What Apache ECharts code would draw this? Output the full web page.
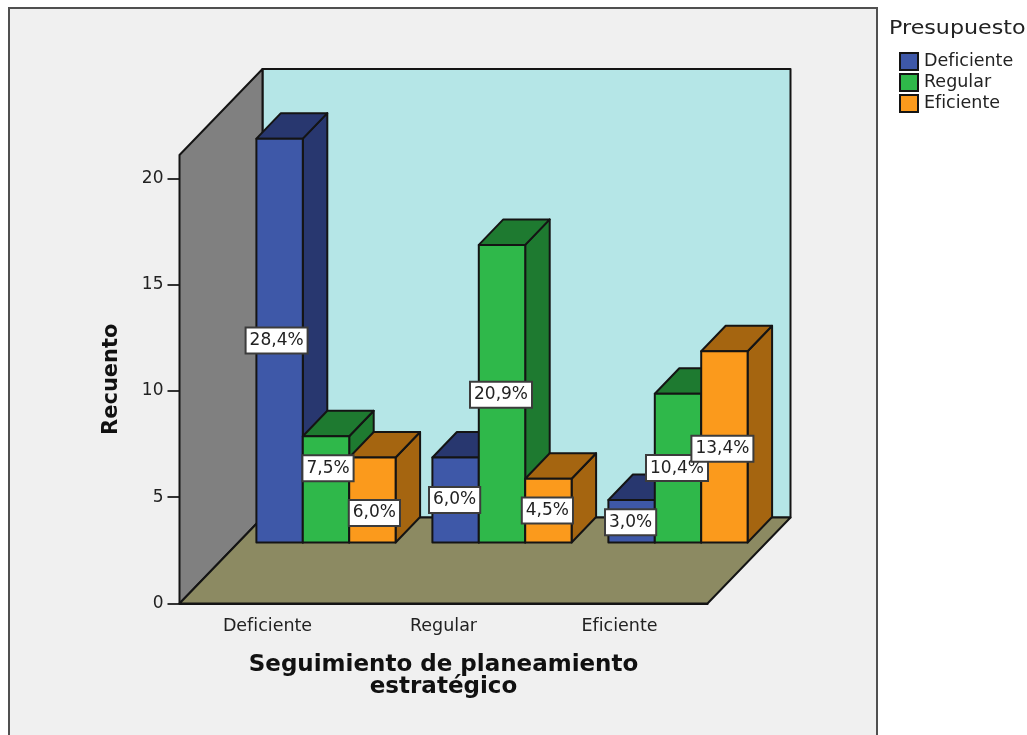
<!DOCTYPE html>
<html lang="es">
<head>
<meta charset="utf-8">
<title>Seguimiento de planeamiento estratégico</title>
<style>html,body{margin:0;padding:0;background:#fff}#chart{width:1027px;height:735px}</style>
<script src="https://cdn.jsdelivr.net/npm/echarts@6/dist/echarts.min.js"></script>
</head>
<body>
<div id="chart"></div>
<script>
// Counts and percentage labels, one entry per category
const categories = ['Deficiente', 'Regular', 'Eficiente'];
const deficiente = [19, 4, 2];
const regular = [5, 14, 7];
const eficiente = [4, 3, 9];
const deficienteLabels = ['28,4%', '6,0%', '3,0%'];
const regularLabels = ['7,5%', '20,9%', '10,4%'];
const eficienteLabels = ['6,0%', '4,5%', '13,4%'];
const yTicks = [0, 5, 10, 15, 20];

// Oblique projection of the box, in pixels
const BOX_DEPTH = { x: 83, y: 86 };
const BAR_SHIFT = { x: 58.5, y: 61 };
const BAR_DEPTH = { x: 24.5, y: 25.5 };
const BAR_WIDTH = 46.4;
const EDGE = '#141414';

// Label boxes are moved off the bar centre where they would collide
const labelNudge = {
  Deficiente: [[-3, 0], [-1, 0], [-1, 1]],
  Regular: [[2, -21], [-1, 1], [-1, 0]],
  Eficiente: [[2, 13], [-1, 0], [-2, 2]]
};

const face = (points, fill) => ({
  type: 'polygon',
  shape: { points },
  style: { fill, stroke: EDGE, lineWidth: 2, lineJoin: 'round' }
});

function renderWalls(params) {
  const c = params.coordSys;
  const l = c.x, r = c.x + c.width, t = c.y, b = c.y + c.height;
  const dx = BOX_DEPTH.x, dy = BOX_DEPTH.y;
  return {
    type: 'group',
    children: [
      face([[l + dx, t - dy], [r + dx, t - dy], [r + dx, b - dy], [l + dx, b - dy]], '#b5e6e7'),
      face([[l, t], [l + dx, t - dy], [l + dx, b - dy], [l, b]], '#808080'),
      face([[l, b], [l + dx, b - dy], [r + dx, b - dy], [r, b]], '#8c8a62')
    ]
  };
}

function barRenderer(slot, name, labels, front, dark) {
  return function (params, api) {
    const cat = api.value(0);
    const top = api.coord([cat, api.value(1)]);
    const base = api.coord([cat, 0]);
    const x0 = top[0] + BAR_SHIFT.x + (slot - 0.5) * BAR_WIDTH - BAR_WIDTH;
    const x1 = x0 + BAR_WIDTH;
    const yT = top[1] - BAR_SHIFT.y;
    const yB = base[1] - BAR_SHIFT.y;
    const ox = BAR_DEPTH.x, oy = BAR_DEPTH.y;
    const nudge = labelNudge[name][cat];
    return {
      type: 'group',
      children: [
        face([[x1, yT], [x1 + ox, yT - oy], [x1 + ox, yB - oy], [x1, yB]], dark),
        face([[x0, yT], [x0 + ox, yT - oy], [x1 + ox, yT - oy], [x1, yT]], dark),
        face([[x0, yT], [x1, yT], [x1, yB], [x0, yB]], front),
        {
          type: 'text',
          z2: 100,
          x: (x0 + x1) / 2 + nudge[0],
          y: (yT + yB) / 2 + nudge[1],
          style: {
            text: labels[cat],
            font: '17px "DejaVu Sans"',
            fill: '#222',
            align: 'center',
            verticalAlign: 'middle',
            backgroundColor: '#fff',
            borderColor: '#3c3c3c',
            borderWidth: 2,
            padding: [4, 3, 3, 3]
          }
        }
      ]
    };
  };
}

function barSeries(name, values, labels, slot, front, dark) {
  return {
    name,
    type: 'custom',
    coordinateSystem: 'cartesian2d',
    clip: false,
    silent: true,
    itemStyle: { color: front, borderColor: EDGE, borderWidth: 2 },
    encode: { x: 0, y: 1 },
    data: values.map((v, i) => [i, v]),
    renderItem: barRenderer(slot, name, labels, front, dark)
  };
}

const chart = echarts.init(document.getElementById('chart'), null, { renderer: 'canvas' });
chart.setOption({
  animation: false,
  backgroundColor: '#fff',
  graphic: [{
    type: 'rect',
    z: -10,
    shape: { x: 9, y: 8, width: 868, height: 740 },
    style: { fill: '#f0f0f0', stroke: '#505050', lineWidth: 2 }
  }, {
    // Legend heading
    type: 'text',
    x: 889,
    y: 29,
    scaleX: 1.11,
    style: {
      text: 'Presupuesto',
      font: '20px "DejaVu Sans"',
      fill: '#222',
      align: 'left',
      verticalAlign: 'middle'
    }
  }],
  legend: {
    data: ['Deficiente', 'Regular', 'Eficiente'],
    orient: 'vertical',
    left: 899,
    top: 52,
    padding: 0,
    itemWidth: 18,
    itemHeight: 17,
    itemGap: 2,
    icon: 'rect',
    selectedMode: false,
    textStyle: { fontFamily: 'DejaVu Sans', fontSize: 17.5, lineHeight: 17, color: '#222', padding: [0, 0, 0, 1] }
  },
  grid: { left: 179.5, right: 319.5, top: 155, bottom: 131.5 },
  xAxis: {
    type: 'category',
    data: categories,
    name: 'Seguimiento de planeamiento\nestratégico',
    nameLocation: 'middle',
    nameGap: 51,
    nameTextStyle: { fontFamily: 'DejaVu Sans', fontSize: 23, fontWeight: 'bold', color: '#111', lineHeight: 22 },
    axisLine: { lineStyle: { color: EDGE, width: 2 } },
    axisTick: { alignWithLabel: true, length: 10, lineStyle: { color: '#333', width: 2 } },
    axisLabel: { fontFamily: 'DejaVu Sans', fontSize: 17.5, color: '#222', margin: 14 }
  },
  yAxis: {
    type: 'value',
    min: 0,
    max: 21.1,
    name: 'Recuento',
    nameLocation: 'middle',
    nameGap: 57,
    nameTextStyle: { fontFamily: 'DejaVu Sans', fontSize: 21, fontWeight: 'bold', color: '#111' },
    splitLine: { show: false },
    axisLine: { show: true, lineStyle: { color: EDGE, width: 2 } },
    axisTick: { show: true, length: 12, customValues: yTicks, lineStyle: { color: '#333', width: 2 } },
    axisLabel: { fontFamily: 'DejaVu Sans', fontSize: 17, color: '#222', margin: 16, customValues: yTicks }
  },
  series: [
    {
      name: 'Paredes',
      type: 'custom',
      coordinateSystem: 'cartesian2d',
      clip: false,
      silent: true,
      z: 1,
      data: [[0, 0]],
      encode: { x: 0, y: 1 },
      renderItem: renderWalls
    },
    barSeries('Deficiente', deficiente, deficienteLabels, 0, '#3e58a8', '#28376f'),
    barSeries('Regular', regular, regularLabels, 1, '#2fb84a', '#1e7a30'),
    barSeries('Eficiente', eficiente, eficienteLabels, 2, '#fb9a1c', '#a56510')
  ]
});
</script>
</body>
</html>
